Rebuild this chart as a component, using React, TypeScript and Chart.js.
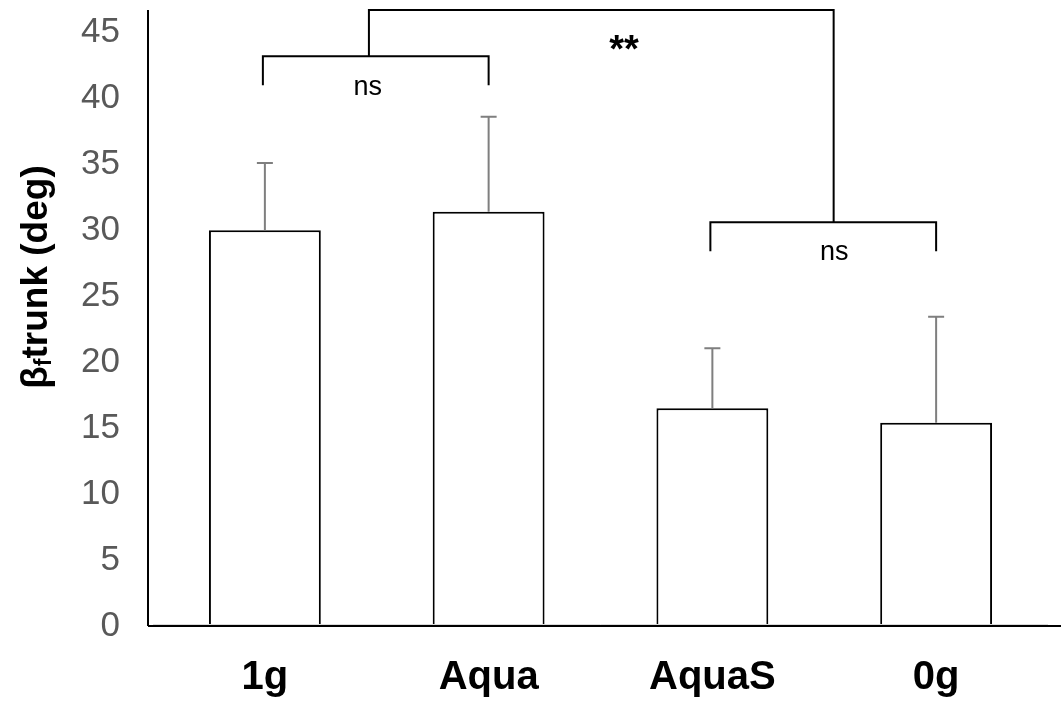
import React, { useEffect, useRef } from "react";
import { Chart, registerables } from "chart.js";

Chart.register(...registerables);

const categories = ["1g", "Aqua", "AquaS", "0g"];
const means = [30.0, 31.4, 16.5, 15.4];
const upperErrors = [5.1, 7.2, 4.55, 8.05];
const yTickValues = [0, 5, 10, 15, 20, 25, 30, 35, 40, 45];

// pair brackets: category start/end, bar height (value) and leg end (value)
const pairFrom = [0, 2];
const pairTo = [1, 3];
const pairTop = [43.2, 30.6];
const pairLeg = [41.0, 28.4];

// connecting bracket between the two pairs (x in category units)
const linkX = [0.465, 2.542];
const linkTop = 46.7;

const noteTexts = ["ns", "ns", "**"];
const noteX = [0.46, 2.545, 1.605];
const noteY = [40.8, 28.3, 44.4];

const FONT = "'Liberation Sans', Arial, sans-serif";

export default function App() {
  const ref = useRef<HTMLCanvasElement | null>(null);

  useEffect(() => {
    if (!ref.current) return;

    const overlay = {
      id: "overlay",
      afterDatasetsDraw(chart: any) {
        const ctx = chart.ctx;
        const xs = chart.scales.x;
        const ys = chart.scales.y;
        ctx.save();
        ctx.strokeStyle = "#7f7f7f";
        ctx.lineWidth = 2;
        for (let i = 0; i < means.length; i++) {
          const x = xs.getPixelForValue(i);
          const y0 = ys.getPixelForValue(means[i]);
          const y1 = ys.getPixelForValue(means[i] + upperErrors[i]);
          ctx.beginPath();
          ctx.moveTo(x, y0);
          ctx.lineTo(x, y1);
          ctx.moveTo(x - 8, y1);
          ctx.lineTo(x + 8, y1);
          ctx.stroke();
        }
        ctx.restore();
      },
      afterDraw(chart: any) {
        const ctx = chart.ctx;
        const xs = chart.scales.x;
        const ys = chart.scales.y;
        const area = chart.chartArea;
        ctx.save();
        // faint baseline under bars
        ctx.strokeStyle = "#d9d9d9";
        ctx.lineWidth = 1;
        ctx.beginPath();
        ctx.moveTo(area.left, area.bottom - 1.5);
        ctx.lineTo(area.right, area.bottom - 1.5);
        ctx.stroke();

        // axes
        const axisX = area.left - 5;
        ctx.strokeStyle = "#000";
        ctx.lineWidth = 2;
        ctx.beginPath();
        ctx.moveTo(axisX, ys.getPixelForValue(linkTop));
        ctx.lineTo(axisX, area.bottom);
        ctx.stroke();
        ctx.beginPath();
        ctx.moveTo(axisX, area.bottom);
        ctx.lineTo(chart.width, area.bottom);
        ctx.stroke();

        // pair brackets
        ctx.lineWidth = 2;
        for (let k = 0; k < pairFrom.length; k++) {
          const xa = xs.getPixelForValue(pairFrom[k]) - 2;
          const xb = xs.getPixelForValue(pairTo[k]);
          const yt = ys.getPixelForValue(pairTop[k]);
          const yl = ys.getPixelForValue(pairLeg[k]);
          ctx.beginPath();
          ctx.moveTo(xa, yl);
          ctx.lineTo(xa, yt);
          ctx.lineTo(xb, yt);
          ctx.lineTo(xb, yl);
          ctx.stroke();
        }
        // linking bracket
        const la = xs.getPixelForValue(linkX[0]);
        const lb = xs.getPixelForValue(linkX[1]);
        const lt = ys.getPixelForValue(linkTop);
        ctx.beginPath();
        ctx.moveTo(la, ys.getPixelForValue(pairTop[0]));
        ctx.lineTo(la, lt);
        ctx.lineTo(lb, lt);
        ctx.lineTo(lb, ys.getPixelForValue(pairTop[1]));
        ctx.stroke();

        // notes
        ctx.fillStyle = "#000";
        ctx.textAlign = "center";
        for (let k = 0; k < noteTexts.length; k++) {
          const px = xs.getPixelForValue(noteX[k]);
          const py = ys.getPixelForValue(noteY[k]);
          if (noteTexts[k] === "**") {
            const size = 38;
            ctx.font = `bold ${size}px ${FONT}`;
            ctx.textBaseline = "alphabetic";
            ctx.fillText(noteTexts[k], px, py + size * 0.58);
          } else {
            ctx.font = `27px ${FONT}`;
            ctx.textBaseline = "middle";
            ctx.fillText(noteTexts[k], px, py);
          }
        }

        // y-axis title with subscript
        const big = `bold 37px ${FONT}`;
        const small = `bold 23px ${FONT}`;
        ctx.font = big;
        const wBeta = ctx.measureText("\u03b2").width;
        const wRest = ctx.measureText("trunk (deg)").width;
        ctx.font = small;
        const wSub = ctx.measureText("f").width;
        const total = wBeta + wSub + wRest;
        ctx.translate(37, 277);
        ctx.rotate(-Math.PI / 2);
        ctx.textAlign = "left";
        ctx.textBaseline = "middle";
        let cx = -total / 2;
        ctx.font = big;
        ctx.fillText("\u03b2", cx, 0);
        cx += wBeta;
        ctx.font = small;
        ctx.fillText("f", cx, 8);
        cx += wSub;
        ctx.font = big;
        ctx.fillText("trunk (deg)", cx, 0);
        ctx.restore();
      },
    };

    const chart = new Chart(ref.current, {
      type: "bar",
      data: {
        labels: categories,
        datasets: [
          {
            data: means,
            backgroundColor: "#ffffff",
            borderColor: "#000000",
            borderWidth: 2,
            categoryPercentage: 1,
            barPercentage: 0.5,
          },
        ],
      },
      options: {
        animation: false,
        responsive: true,
        maintainAspectRatio: false,
        layout: { padding: { top: 6, right: 13, left: 0, bottom: 0 } },
        plugins: {
          legend: { display: false },
          tooltip: { enabled: false },
          title: { display: false },
        },
        scales: {
          x: {
            type: "category",
            offset: true,
            grid: { display: false, drawTicks: false },
            border: { display: false },
            ticks: {
              color: "#000",
              font: { family: FONT, size: 40, weight: "bold" },
              padding: 28,
            },
            afterFit: (s: any) => {
              s.height = 76;
              s.paddingLeft = 0;
              s.paddingRight = 0;
            },
          },
          y: {
            min: 0,
            max: 47,
            grid: { display: false, drawTicks: false },
            border: { display: false },
            afterBuildTicks: (s: any) => {
              s.ticks = yTickValues.map((v) => ({ value: v }));
            },
            ticks: {
              color: "#595959",
              font: { family: FONT, size: 35 },
              padding: 33,
            },
            afterFit: (s: any) => {
              s.width = 153;
              s.paddingTop = 0;
              s.paddingBottom = 0;
            },
          },
        },
      },
      plugins: [overlay],
    });
    return () => chart.destroy();
  }, []);

  return (
    <div style={{ position: "fixed", left: 0, top: 0, width: 1061, height: 702, background: "#fff" }}>
      <canvas ref={ref} />
    </div>
  );
}
